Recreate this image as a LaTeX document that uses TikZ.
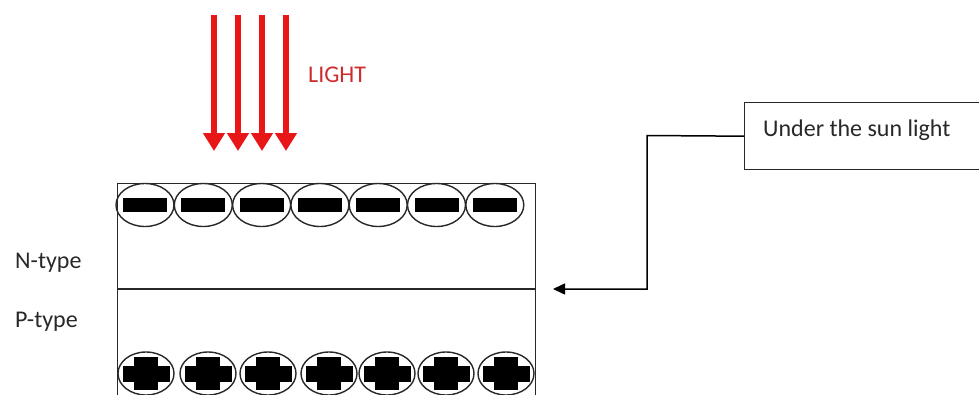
\documentclass[tikz,border=0pt]{standalone}
\usepackage{fontspec}
\setmainfont{Carlito}
\usetikzlibrary{arrows.meta,shapes.geometric}
\definecolor{rayred}{RGB}{232,22,22}
\definecolor{labelred}{RGB}{205,45,45}
\definecolor{ink}{RGB}{40,40,40}
\tikzset{
  carrier/.style={ellipse, draw=ink, line width=1.4pt, minimum width=58pt, minimum height=43pt, inner sep=0pt},
  minusbar/.style={fill=black, minimum width=44pt, minimum height=14pt, inner sep=0pt},
  ray/.style={draw=rayred, line width=6pt, -{Triangle[width=21pt,length=18pt]}},
  label/.style={font=\fontsize{24}{28}\selectfont, text=ink, inner sep=0pt, anchor=base west},
  lead/.style={draw=black, line width=1.5pt, -{Triangle[width=11pt,length=12pt]}}
}
\begin{document}
\begin{tikzpicture}[x=1pt,y=-1pt]
  \useasboundingbox (0,0) rectangle (979,394);
  \clip (0,0) rectangle (979,394);

  % semiconductor slab and the junction between its two layers
  \node[draw=ink, line width=1.4pt, minimum width=418pt, minimum height=230pt, inner sep=0pt, anchor=north west] (slab) at (117,183) {};
  \coordinate (jl) at (117,289);
  \coordinate (jr) at (535,289);
  \draw[ink, line width=1.3pt] (jl) -- (jr);

  % electrons in the N layer
  \foreach \i [evaluate=\i as \x using 145+58.3*\i] in {0,...,6} {
    \node[carrier] (e\i) at (\x,205) {};
    \node[minusbar] (m\i) at (e\i.center) {};
  }

  % holes in the P layer
  \foreach \i/\x in {0/146,1/208,2/268,3/329,4/387,5/446,6/506} {
    \node[carrier, minimum width=56pt] (h\i) at (\x,373.5) {};
    \fill[black] ([xshift=-12pt,yshift=16.5pt]h\i.center) rectangle ([xshift=12pt,yshift=-16.5pt]h\i.center);
    \fill[black] ([xshift=-23.5pt,yshift=8pt]h\i.center) rectangle ([xshift=23.5pt,yshift=-8pt]h\i.center);
  }

  % layer names
  \node[label] (ntype) at (15,268) {N-type};
  \node[label] (ptype) at (15,327) {P-type};

  % incoming light
  \foreach \i/\x in {1/214,2/238,3/262,4/286} {
    \coordinate (rs\i) at (\x,15);
    \coordinate (re\i) at (\x,151);
    \draw[ray] (rs\i) -- (re\i);
  }
  \node[label, text=labelred] (light) at (308,82) {LIGHT};

  % condition callout
  \node[draw=ink, line width=1.4pt, minimum width=250pt, minimum height=67pt, inner sep=0pt, anchor=north west] (sun) at (744,102) {};
  \node[label] (suntext) at (763,136) {Under the sun light};
  \coordinate (bend1) at (647,135.5);
  \coordinate (bend2) at (647,289);
  \coordinate (tip) at (553,289);
  \draw[lead] (sun.west) -- (bend1) -- (bend2) -- (tip);
\end{tikzpicture}
\end{document}
